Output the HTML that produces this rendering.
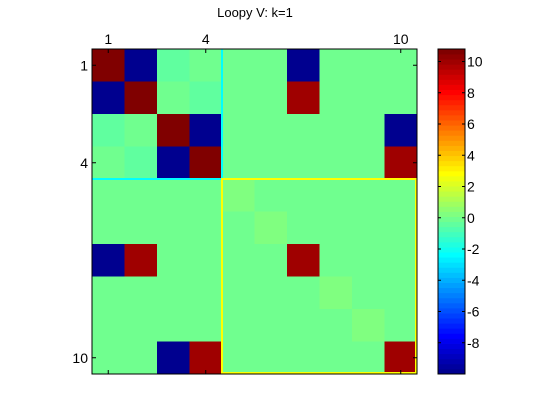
<!DOCTYPE html>
<html><head><meta charset="utf-8"><style>
body{margin:0;background:#fff;}
svg{display:block;font-family:"Liberation Sans",sans-serif;}
</style></head><body>
<svg id="c" width="560" height="420">
<text x="255" y="17" font-size="13" text-anchor="middle">Loopy V: k=1</text>
<g id="cells"></g>
<g id="cbar"></g>
</svg>
<script>
const rowLabels=[1,2,3,4,5,6,7,8,9,10];
const colLabels=[1,2,3,4,5,6,7,8,9,10];
const row1=[10.8,-10,-0.4,0,0,0,-10,0,0,0];
const row2=[-10,10.8,0,-0.4,0,0,10,0,0,0];
const row3=[-0.4,0,10.8,-10,0,0,0,0,0,-10];
const row4=[0,-0.4,-10,10.8,0,0,0,0,0,10];
const row5=[0,0,0,0,0.25,0,0,0,0,0];
const row6=[0,0,0,0,0,0.25,0,0,0,0];
const row7=[-10,10,0,0,0,0,10,0,0,0];
const row8=[0,0,0,0,0,0,0,0.25,0,0];
const row9=[0,0,0,0,0,0,0,0,0.25,0];
const row10=[0,0,-10,10,0,0,0,0,0,10];
const matrix=[row1,row2,row3,row4,row5,row6,row7,row8,row9,row10];
const xTicks=[1,4,10];
const yTicks=[1,4,10];
const cbTicks=[-8,-6,-4,-2,0,2,4,6,8,10];
const cmin=-10, cmax=10.8;

const NS="http://www.w3.org/2000/svg";
const L=92,T=49,W=325,H=325,n=10,cw=W/n,ch=H/n;
const sx=c=>L+(c-1)*cw, sy=r=>T+(r-1)*ch;
function u(i){if(i<1||i>47)return 0;if(i<=16)return i/16;if(i<=31)return 1;return (48-i)/16;}
function jet(k){return [u(k-24),u(k-8),u(k+8)].map(v=>Math.round(v*255));}
function idx(v){let k=Math.floor((v-cmin)/(cmax-cmin)*64)+1;return Math.max(1,Math.min(64,k));}
function col(v){const c=jet(idx(v));return `rgb(${c[0]},${c[1]},${c[2]})`;}
function mk(tag,attrs,parent){const e=document.createElementNS(NS,tag);for(const k in attrs)e.setAttribute(k,attrs[k]);parent.appendChild(e);return e;}
const svg=document.getElementById('c');
const g=document.getElementById('cells');
matrix.forEach((row,ri)=>row.forEach((v,ci)=>{
 const r=mk('rect',{x:sx(ci+1),y:sy(ri+1),width:cw+0.5,height:ch+0.5,fill:col(v)},g);
 
 
}));
// highlight boxes
const cy=mk('path',{d:`M${sx(5)},${T} V${sy(5)} H${L}`,stroke:'#00ffff','stroke-width':2,fill:'none'},svg);


const ye=mk('rect',{x:sx(5),y:sy(5),width:W-4*cw-1,height:H-4*ch-1,stroke:'#ffff00','stroke-width':2,fill:'none'},svg);


const fr=mk('rect',{x:L,y:T,width:W,height:H,stroke:'#000','stroke-width':1,fill:'none'},svg);


xTicks.forEach(t=>{
 const x=sx(t)+cw/2;
 mk('line',{x1:x,x2:x,y1:T,y2:T+4,stroke:'#000'},svg);
 mk('line',{x1:x,x2:x,y1:T+H,y2:T+H-4,stroke:'#000'},svg);
 const tx=mk('text',{x:x,y:T-5,'font-size':14,'text-anchor':'middle'},svg);
 tx.textContent=t;
 
 
});
yTicks.forEach(t=>{
 const y=sy(t)+ch/2;
 mk('line',{x1:L,x2:L+4,y1:y,y2:y,stroke:'#000'},svg);
 mk('line',{x1:L+W,x2:L+W-4,y1:y,y2:y,stroke:'#000'},svg);
 const tx=mk('text',{x:L-4,y:y+5,'font-size':14,'text-anchor':'end'},svg);
 tx.textContent=t;
 
 
});
// colorbar
const cb=document.getElementById('cbar');
const CL=438,CW=27;
const cbY=v=>T+H-(v-cmin)/(cmax-cmin)*H;
for(let k=1;k<=64;k++){
 const c=jet(k);
 const r=mk('rect',{x:CL,y:T+H-k*H/64,width:CW,height:H/64+0.4,fill:`rgb(${c[0]},${c[1]},${c[2]})`},cb);
 
 
}
mk('rect',{x:CL,y:T,width:CW,height:H,stroke:'#000',fill:'none'},cb);
cbTicks.forEach(t=>{
 const y=cbY(t);
 mk('line',{x1:CL,x2:CL+3,y1:y,y2:y,stroke:'#000'},cb);
 mk('line',{x1:CL+CW,x2:CL+CW-3,y1:y,y2:y,stroke:'#000'},cb);
 const tx=mk('text',{x:CL+CW+2,y:y+5,'font-size':14},cb);
 tx.textContent=t;
 
 
});
</script>
</body></html>
